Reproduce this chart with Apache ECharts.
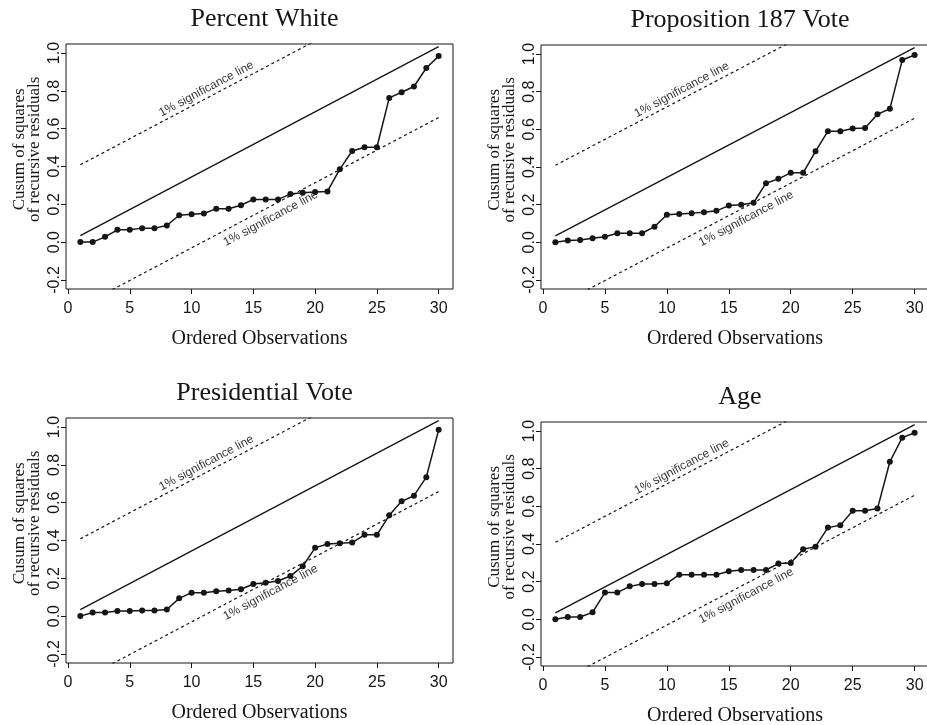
<!DOCTYPE html>
<html>
<head>
<meta charset="utf-8">
<title>Cusum of squares of recursive residuals</title>
<script src="https://cdn.jsdelivr.net/npm/echarts@6/dist/echarts.min.js"></script>
<style>
  html, body { margin: 0; padding: 0; background: #fff; }
  #chart { width: 927px; height: 725px; }
</style>
</head>
<body>
<div id="chart"></div>
<script>
// ordered observations (x)
var obs = [1, 2, 3, 4, 5, 6, 7, 8, 9, 10, 11, 12, 13, 14, 15,
           16, 17, 18, 19, 20, 21, 22, 23, 24, 25, 26, 27, 28, 29, 30];

// cusum of squares
var percentWhite = [0.00, 0.00, 0.028, 0.065, 0.065, 0.074, 0.074, 0.088, 0.142, 0.147,
                    0.151, 0.177, 0.177, 0.195, 0.226, 0.226, 0.226, 0.254, 0.261, 0.265,
                    0.268, 0.386, 0.482, 0.502, 0.502, 0.763, 0.793, 0.823, 0.921, 0.984];
var prop187 = [0.00, 0.010, 0.012, 0.021, 0.030, 0.048, 0.048, 0.048, 0.083, 0.146,
               0.151, 0.155, 0.160, 0.167, 0.195, 0.199, 0.210, 0.314, 0.337, 0.369,
               0.369, 0.483, 0.590, 0.590, 0.604, 0.607, 0.680, 0.709, 0.968, 0.995];
var presVote = [0.00, 0.019, 0.019, 0.027, 0.027, 0.030, 0.030, 0.035, 0.094, 0.124,
                0.124, 0.131, 0.136, 0.142, 0.170, 0.177, 0.186, 0.212, 0.264, 0.361,
                0.381, 0.386, 0.389, 0.430, 0.430, 0.533, 0.607, 0.637, 0.735, 0.986];
var age = [0.00, 0.012, 0.012, 0.037, 0.142, 0.142, 0.175, 0.188, 0.188, 0.191,
           0.237, 0.237, 0.237, 0.237, 0.255, 0.262, 0.262, 0.262, 0.296, 0.299,
           0.372, 0.386, 0.487, 0.499, 0.577, 0.577, 0.588, 0.837, 0.965, 0.991];

var panelTitles = ['Percent White', 'Proposition 187 Vote', 'Presidential Vote', 'Age'];
var xTicks = [0, 5, 10, 15, 20, 25, 30];
var yTicks = [-0.2, 0, 0.2, 0.4, 0.6, 0.8, 1.0];

// expected line (end points) and half width of the 1% band
var refX = [1, 30];
var refY = [0.034, 1.034];
var bandWidth = 0.375;

var panels = [percentWhite, prop187, presVote, age];

var serif = '"Liberation Serif", "Times New Roman", serif';
var sans = '"Liberation Sans", Arial, sans-serif';
var ink = '#151515';

var boxes = [
  {left: 66, top: 44, width: 387, height: 245},
  {left: 541, top: 45, width: 388, height: 244},
  {left: 66, top: 418, width: 387, height: 245},
  {left: 541, top: 422, width: 388, height: 244}
];

var grid = [], xAxis = [], yAxis = [], series = [], title = [], graphic = [];

function refLine(shift) {
  return refX.map(function (x, i) { return [x, refY[i] + shift]; });
}

panels.forEach(function (vals, i) {
  var b = boxes[i];
  grid.push({
    left: b.left, top: b.top, width: b.width, height: b.height,
    show: true, borderColor: ink, borderWidth: 1, backgroundColor: 'transparent',
    outerBoundsMode: 'none'
  });
  xAxis.push({
    type: 'value', gridIndex: i, min: -0.16, max: 31.16,
    name: 'Ordered Observations', nameLocation: 'middle', nameGap: 40,
    nameTextStyle: {fontFamily: serif, fontSize: 20, color: ink},
    axisLine: {show: false, onZero: false},
    axisTick: {show: true, inside: false, length: 5, customValues: xTicks,
               lineStyle: {color: ink}},
    axisLabel: {show: true, margin: 12, customValues: xTicks,
                fontFamily: sans, fontSize: 16, color: ink},
    splitLine: {show: false}
  });
  yAxis.push({
    type: 'value', gridIndex: i, min: -0.248, max: 1.048,
    axisLine: {show: false, onZero: false},
    axisTick: {show: true, inside: false, length: 5, customValues: yTicks,
               lineStyle: {color: ink}},
    axisLabel: {show: true, margin: 3, rotate: 90, customValues: yTicks,
                fontFamily: sans, fontSize: 16, color: ink,
                formatter: function (v) { return v.toFixed(1); }},
    splitLine: {show: false}
  });

  // expected line
  series.push({
    type: 'line', xAxisIndex: i, yAxisIndex: i, data: refLine(0),
    symbol: 'none', silent: true, clip: true,
    lineStyle: {color: ink, width: 1.4}
  });
  // 1% significance lines
  [bandWidth, -bandWidth].forEach(function (s) {
    series.push({
      type: 'line', xAxisIndex: i, yAxisIndex: i, data: refLine(s),
      symbol: 'none', silent: true, clip: true,
      lineStyle: {color: ink, width: 1.2, type: [3, 3]}
    });
  });
  // labels for the significance lines
  series.push({
    type: 'scatter', xAxisIndex: i, yAxisIndex: i, symbolSize: 0, silent: true,
    data: [[11.2, 0.81], [16.4, 0.125]],
    label: {show: true, position: 'inside', rotate: 28,
            formatter: '1% significance line',
            fontFamily: sans, fontSize: 12, color: '#000'}
  });
  // cusum of squares
  series.push({
    type: 'line', xAxisIndex: i, yAxisIndex: i,
    data: obs.map(function (x, k) { return [x, vals[k]]; }),
    symbol: 'circle', symbolSize: 6, showSymbol: true,
    itemStyle: {color: ink},
    lineStyle: {color: ink, width: 1.5}
  });

  title.push({
    text: panelTitles[i], left: b.left + b.width / 2, top: b.top - 43,
    textAlign: 'center',
    textStyle: {fontFamily: serif, fontSize: 26, fontWeight: 'normal', color: ink}
  });

  // y axis name, two lines
  var cy = b.top + b.height * 0.43;
  graphic.push({
    type: 'text', x: b.left - 46, y: cy, rotation: Math.PI / 2,
    style: {text: 'Cusum of squares', font: '17px ' + serif, fill: ink,
            textAlign: 'center', textVerticalAlign: 'middle'}
  });
  graphic.push({
    type: 'text', x: b.left - 31, y: cy, rotation: Math.PI / 2,
    style: {text: 'of recursive residuals', font: '17px ' + serif, fill: ink,
            textAlign: 'center', textVerticalAlign: 'middle'}
  });
});

var chart = echarts.init(document.getElementById('chart'));
chart.setOption({
  animation: false,
  backgroundColor: '#fff',
  title: title,
  grid: grid,
  xAxis: xAxis,
  yAxis: yAxis,
  series: series,
  graphic: graphic
});
</script>
</body>
</html>
